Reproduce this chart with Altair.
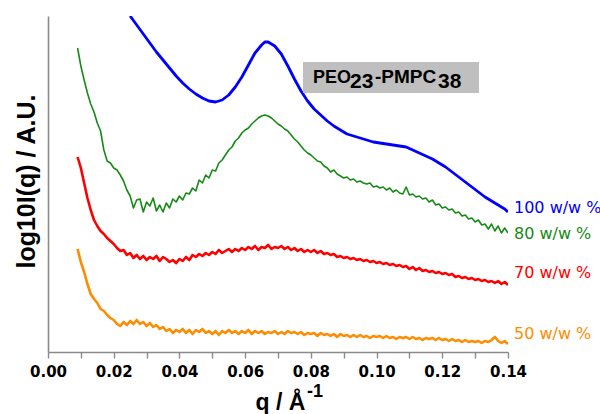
import altair as alt
import pandas as pd

# Shared q grid (Å^-1) for the three noisy traces
q_grid = [round(0.009 + 0.001 * i, 3) for i in range(132)]

# log10 I(q), arbitrary offsets per concentration
i_80 = [
    3.04, 2.86, 2.72, 2.59, 2.48, 2.40, 2.29, 2.21, 2.02, 1.91,
    1.89, 1.84, 1.82, 1.77, 1.71, 1.62, 1.56, 1.44, 1.52, 1.53,
    1.40, 1.50, 1.46, 1.54, 1.41, 1.47, 1.40, 1.49, 1.44, 1.53,
    1.50, 1.56, 1.52, 1.59, 1.58, 1.64, 1.61, 1.72, 1.69, 1.77,
    1.74, 1.82, 1.81, 1.89, 1.92, 1.97, 2.02, 2.05, 2.11, 2.14,
    2.19, 2.22, 2.24, 2.28, 2.31, 2.34, 2.36, 2.37, 2.36, 2.34,
    2.31, 2.28, 2.26, 2.23, 2.21, 2.17, 2.13, 2.10, 2.06, 2.02,
    1.99, 1.97, 1.94, 1.91, 1.90, 1.86, 1.84, 1.80, 1.82, 1.78,
    1.76, 1.74, 1.75, 1.72, 1.73, 1.70, 1.71, 1.69, 1.68, 1.69,
    1.65, 1.66, 1.64, 1.65, 1.62, 1.64, 1.60, 1.62, 1.59, 1.58,
    1.65, 1.57, 1.58, 1.55, 1.56, 1.53, 1.54, 1.50, 1.52, 1.47,
    1.48, 1.44, 1.45, 1.42, 1.43, 1.39, 1.40, 1.36, 1.37, 1.33,
    1.34, 1.30, 1.32, 1.27, 1.28, 1.23, 1.28, 1.21, 1.26, 1.19,
    1.24, 1.19,
]
i_70 = [
    1.95, 1.84, 1.69, 1.54, 1.42, 1.32, 1.26, 1.21, 1.18, 1.14,
    1.11, 1.08, 1.04, 1.01, 1.02, 0.97, 0.99, 0.94, 0.97, 0.93,
    0.96, 0.92, 0.95, 0.93, 0.96, 0.91, 0.95, 0.93, 0.90, 0.92,
    0.89, 0.93, 0.91, 0.95, 0.92, 0.97, 0.95, 0.98, 0.96, 0.99,
    0.97, 1.00, 0.98, 1.02, 0.99, 1.01, 1.03, 1.00, 1.03, 1.01,
    1.04, 1.02, 1.05, 1.03, 1.06, 1.02, 1.05, 1.04, 1.07, 1.03,
    1.05, 1.04, 1.06, 1.03, 1.05, 1.02, 1.04, 1.01, 1.03, 1.00,
    1.02, 1.00, 1.02, 0.99, 1.01, 0.98, 0.99, 0.97, 0.98, 0.95,
    0.96, 0.94, 0.95, 0.93, 0.94, 0.92, 0.93, 0.91, 0.92, 0.90,
    0.91, 0.89, 0.90, 0.88, 0.89, 0.87, 0.88, 0.86, 0.87, 0.85,
    0.86, 0.83, 0.85, 0.82, 0.84, 0.81, 0.82, 0.80, 0.81, 0.79,
    0.80, 0.78, 0.79, 0.77, 0.78, 0.75, 0.76, 0.74, 0.75, 0.73,
    0.74, 0.72, 0.73, 0.71, 0.72, 0.70, 0.71, 0.69, 0.71, 0.68,
    0.70, 0.67,
]
i_50 = [
    1.03, 0.90, 0.80, 0.68, 0.58, 0.53, 0.49, 0.43, 0.41, 0.37,
    0.34, 0.32, 0.28, 0.26, 0.30, 0.27, 0.31, 0.28, 0.32, 0.28,
    0.30, 0.26, 0.29, 0.25, 0.27, 0.23, 0.25, 0.21, 0.23, 0.19,
    0.22, 0.20, 0.23, 0.19, 0.22, 0.18, 0.22, 0.20, 0.23, 0.19,
    0.21, 0.18, 0.21, 0.17, 0.21, 0.19, 0.22, 0.19, 0.21, 0.18,
    0.21, 0.19, 0.22, 0.18, 0.21, 0.19, 0.21, 0.18, 0.20, 0.19,
    0.21, 0.18, 0.20, 0.18, 0.21, 0.19, 0.20, 0.18, 0.20, 0.17,
    0.19, 0.18, 0.19, 0.16, 0.19, 0.17, 0.18, 0.16, 0.18, 0.15,
    0.18, 0.16, 0.17, 0.15, 0.17, 0.15, 0.17, 0.15, 0.16, 0.14,
    0.16, 0.15, 0.16, 0.14, 0.16, 0.14, 0.15, 0.13, 0.15, 0.14,
    0.15, 0.13, 0.15, 0.13, 0.14, 0.12, 0.14, 0.13, 0.14, 0.12,
    0.14, 0.12, 0.13, 0.11, 0.13, 0.11, 0.12, 0.10, 0.12, 0.10,
    0.11, 0.10, 0.11, 0.09, 0.11, 0.10, 0.12, 0.15, 0.11, 0.09,
    0.11, 0.08,
]

# The 100 w/w % trace is smooth, sampled more coarsely
q_100 = [
    0.025, 0.027, 0.029, 0.031, 0.033, 0.035, 0.037, 0.039, 0.041, 0.043,
    0.045, 0.047, 0.049, 0.051, 0.053, 0.055, 0.057, 0.059, 0.061, 0.063,
    0.065, 0.066, 0.067, 0.068, 0.069, 0.071, 0.073, 0.075, 0.077, 0.079,
    0.081, 0.083, 0.085, 0.087, 0.089, 0.091, 0.093, 0.095, 0.097, 0.099,
    0.101, 0.103, 0.105, 0.107, 0.109, 0.111, 0.113, 0.115, 0.117, 0.119,
    0.121, 0.123, 0.125, 0.127, 0.129, 0.131, 0.133, 0.135, 0.137, 0.139,
    0.140,
]
i_100 = [
    3.36, 3.27, 3.18, 3.09, 3.00, 2.92, 2.84, 2.76, 2.69, 2.63,
    2.58, 2.54, 2.51, 2.50, 2.52, 2.57, 2.65, 2.75, 2.87, 2.99,
    3.07, 3.10, 3.10, 3.08, 3.06, 2.98, 2.86, 2.73, 2.61, 2.51,
    2.43, 2.37, 2.31, 2.26, 2.22, 2.18, 2.16, 2.14, 2.12, 2.10,
    2.09, 2.08, 2.07, 2.06, 2.05, 2.02, 1.99, 1.96, 1.93, 1.89,
    1.85, 1.80, 1.75, 1.70, 1.65, 1.60, 1.55, 1.51, 1.47, 1.43,
    1.40,
]

# Series labels placed at the right-hand end of the traces
label_text = ["100 w/w %", "80 w/w %", "70 w/w %", "50 w/w %"]
label_y = [1.44, 1.18, 0.79, 0.18]
colors = ["#0000ff", "#168a16", "#ff0000", "#ff8c00"]
widths = [2.8, 1.6, 2.6, 2.6]

x_ticks = [round(0.01 * i, 2) for i in range(15)]

FONT = "DejaVu Sans"
TITLE_FONT = "Liberation Sans"
AXIS_GREY = "#8a8a8a"

x_scale = alt.Scale(domain=[0, 0.14], nice=False, zero=False)
y_scale = alt.Scale(domain=[0, 3.36], nice=False, zero=False)

x_axis = alt.Axis(
    values=x_ticks,
    labelExpr="round(datum.value * 100) % 2 == 0 ? format(datum.value, '.2f') : ''",
    grid=False,
    domainColor=AXIS_GREY,
    domainWidth=1.6,
    tickColor=AXIS_GREY,
    tickWidth=1.4,
    tickSize=6,
    labelFont=FONT,
    labelFontSize=15,
    labelFontWeight="bold",
    labelColor="black",
    labelPadding=6,
    labelFlush=False,
    title="q / Å",
    titleFont=TITLE_FONT,
    titleFontSize=23,
    titleFontWeight="bold",
    titleColor="black",
    titleX=232,
    titleY=57,
    titleAlign="center",
    titleBaseline="alphabetic",
)
y_axis = alt.Axis(
    ticks=False,
    labels=False,
    grid=False,
    domainColor=AXIS_GREY,
    domainWidth=1.6,
    title="log10I(q) / A.U.",
    titleFont=TITLE_FONT,
    titleFontSize=25,
    titleFontWeight="bold",
    titleColor="black",
    titleX=-14,
    titleY=165,
    titleAlign="center",
    titleBaseline="alphabetic",
)

series = [
    ("100 w/w %", q_100, i_100),
    ("80 w/w %", q_grid, i_80),
    ("70 w/w %", q_grid, i_70),
    ("50 w/w %", q_grid, i_50),
]

layers = []
for k, (name, qs, vals) in enumerate(series):
    df = pd.DataFrame({"q": qs, "I": vals})
    layers.append(
        alt.Chart(df)
        .mark_line(color=colors[k], strokeWidth=widths[k], clip=True, strokeJoin="round")
        .encode(
            x=alt.X("q:Q", scale=x_scale, axis=x_axis),
            y=alt.Y("I:Q", scale=y_scale, axis=y_axis),
        )
    )

labels_df = pd.DataFrame(
    {"text": label_text, "I": label_y, "q": [0.14] * 4, "c": colors}
)
labels = (
    alt.Chart(labels_df)
    .mark_text(align="left", baseline="middle", dx=6, font=FONT, fontSize=16)
    .encode(
        x=alt.X("q:Q", scale=x_scale, axis=x_axis),
        y=alt.Y("I:Q", scale=y_scale, axis=y_axis),
        text="text:N",
        color=alt.Color("c:N", scale=None),
    )
)

one = pd.DataFrame({"a": [0]})

# superscript of the x-axis unit
sup = (
    alt.Chart(one)
    .mark_text(align="left", baseline="alphabetic", font=TITLE_FONT, fontSize=18,
               fontWeight="bold", color="black", text="-1")
    .encode(x=alt.value(259), y=alt.value(381))
)

# grey caption box with the copolymer name
box = (
    alt.Chart(one)
    .mark_rect(color="#bfbfbf")
    .encode(x=alt.value(255), x2=alt.value(431), y=alt.value(46), y2=alt.value(77))
)


def name_piece(txt, px, py, size):
    return (
        alt.Chart(one)
        .mark_text(align="left", baseline="alphabetic", font=TITLE_FONT,
                   fontSize=size, fontWeight="bold", color="black", text=txt)
        .encode(x=alt.value(px), y=alt.value(py))
    )


name = [
    name_piece("PEO", 265, 67, 18),
    name_piece("23", 302, 72, 21),
    name_piece("-PMPC", 327, 67, 19),
    name_piece("38", 390, 72, 21),
]

chart = (
    alt.layer(*layers, labels, sup, box, *name)
    .properties(
        width=460,
        height=336,
        autosize=alt.AutoSizeParams(type="none"),
        padding={"left": 48, "top": 16, "right": 92, "bottom": 62},
        background="white",
    )
    .configure_view(stroke=None)
)

chart.save("out.html", embed_options={"renderer": "svg", "actions": False})
